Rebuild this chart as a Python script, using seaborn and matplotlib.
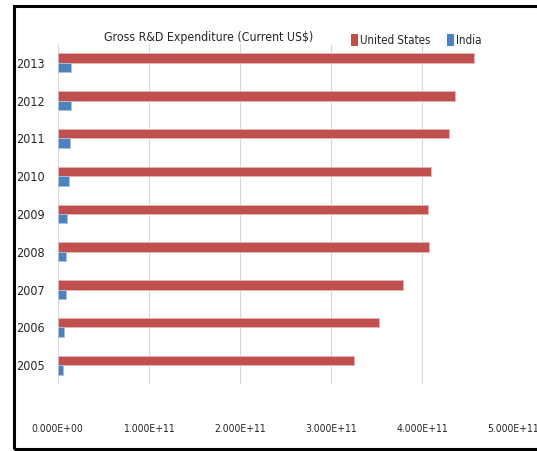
import matplotlib
matplotlib.use("Agg")
import matplotlib.pyplot as plt
import matplotlib.patches as mpatches
import seaborn as sns
import pandas as pd

years = ["2013", "2012", "2011", "2010", "2009", "2008", "2007", "2006", "2005"]
us_values = [4.57e11, 4.36e11, 4.29e11, 4.10e11, 4.06e11, 4.07e11, 3.79e11, 3.53e11, 3.25e11]
india_values = [1.45e10, 1.45e10, 1.37e10, 1.30e10, 1.07e10, 0.90e10, 0.90e10, 0.71e10, 0.57e10]
series = ["United States", "India"]
colors = ["#C0504D", "#4F81BD"]
x_ticks = [0, 1e11, 2e11, 3e11, 4e11, 5e11]
x_tick_labels = ["0.000E+00", "1.000E+11", "2.000E+11", "3.000E+11", "4.000E+11", "5.000E+11"]
title = "Gross R&D Expenditure (Current US$)"

df = pd.DataFrame({
    "Year": years * 2,
    "Value": us_values + india_values,
    "Country": [series[0]] * len(years) + [series[1]] * len(years),
})

sns.set_theme(style="white")
plt.rcParams["font.family"] = ["DejaVu Sans"]
plt.rcParams["font.stretch"] = "condensed"

fig = plt.figure(figsize=(5.37, 4.51), dpi=100)
ax = fig.add_axes([57.5 / 537, 1 - 384 / 451, (513.5 - 57.5) / 537, (384 - 44) / 451])

sns.barplot(data=df, x="Value", y="Year", hue="Country", order=years,
            hue_order=series, palette=colors, orient="h", width=0.5,
            ax=ax, legend=False, saturation=1, edgecolor="none")

for i, p in enumerate(ax.patches):
    is_us = i < len(years)
    p.set_edgecolor("#e8b4b3" if is_us else "#a9c2e0")
    p.set_linewidth(0.6)

ax.set_xlim(0, 5e11)
ax.set_xticks(x_ticks)
ax.set_xticklabels(x_tick_labels, fontsize=7.5, fontstretch="condensed")
ax.tick_params(axis="x", length=0, pad=29)
ax.tick_params(axis="y", length=0, pad=9, labelsize=9)
for t in ax.get_yticklabels():
    t.set_fontstretch("condensed")
ax.set_xlabel("")
ax.set_ylabel("")
for s in ax.spines.values():
    s.set_visible(False)
ax.grid(axis="x", color="#d9d9d9", linewidth=0.8)
ax.grid(axis="y", visible=False)
ax.set_axisbelow(True)

fig.text(209 / 537, 1 - 37 / 451, title, ha="center", va="center", fontsize=8.8,
         fontstretch="condensed")

handles = [mpatches.Patch(facecolor=c, edgecolor="none") for c in colors]
fig.legend(handles, series, loc="center left", bbox_to_anchor=(351 / 537, 1 - 40 / 451),
           ncol=2, frameon=False, prop={"size": 8.3, "stretch": "condensed"},
           handlelength=0.6, handleheight=1.2,
           handletextpad=0.2, columnspacing=1.4, borderpad=0, borderaxespad=0)

frame = mpatches.Rectangle((14 / 537, 1 - 449 / 451), 1.0, (449 - 6) / 451,
                           transform=fig.transFigure, fill=False, edgecolor="black",
                           linewidth=2.2, clip_on=False)
fig.patches.append(frame)

fig.savefig("out.png", dpi=100)
